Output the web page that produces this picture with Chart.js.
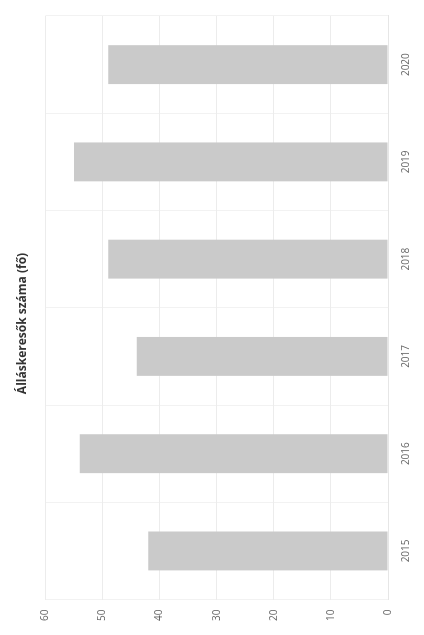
<!DOCTYPE html>
<html>
<head>
  <meta charset="utf-8" />
  <title>Álláskeresők száma</title>
  <script src="https://cdn.jsdelivr.net/npm/chart.js"></script>
  <style>
    html, body { margin: 0; padding: 0; background: #fff; overflow: hidden; }
    #wrap {
      position: absolute;
      left: 0;
      top: 635px;
      width: 635px;
      height: 424px;
      transform-origin: 0 0;
      transform: rotate(-90deg);
    }
  </style>
</head>
<body>
  <div id="wrap"><canvas id="chart" width="635" height="424"></canvas></div>

  <script>
    // data
    const years = ['2015', '2016', '2017', '2018', '2019', '2020'];
    const seekers = [42, 54, 44, 49, 55, 49];
    const valueTicks = [0, 10, 20, 30, 40, 50, 60];

    const ctx = document.getElementById('chart').getContext('2d');
    new Chart(ctx, {
      type: 'bar',
      data: {
        labels: years,
        datasets: [{
          label: 'Álláskeresők',
          data: seekers,
          backgroundColor: '#cacaca',
          borderWidth: 0,
          barPercentage: 0.4,
          categoryPercentage: 1
        }]
      },
      options: {
        responsive: false,
        animation: false,
        layout: { padding: { left: 4, right: 16, top: 13, bottom: 0 } },
        plugins: {
          legend: { display: false },
          tooltip: { enabled: false },
          title: {
            display: true,
            text: 'Álláskeresők száma (fő)',
            color: '#333',
            font: { family: 'Open Sans', size: 12, weight: 'bold' },
            padding: { top: 2, bottom: 16 }
          }
        },
        scales: {
          x: {
            grid: { color: '#f2f2f2', drawTicks: false },
            border: { color: '#e6e6e6' },
            ticks: { color: '#666', padding: 12, font: { family: 'Open Sans', size: 10 } }
          },
          y: {
            min: valueTicks[0],
            max: valueTicks[valueTicks.length - 1],
            afterBuildTicks: axis => { axis.ticks = valueTicks.map(v => ({ value: v })); },
            grid: { color: '#ececec', drawTicks: false },
            border: { display: false },
            ticks: { color: '#666', padding: 10, font: { family: 'Open Sans', size: 10 } }
          }
        }
      }
    });
  </script>
</body>
</html>
